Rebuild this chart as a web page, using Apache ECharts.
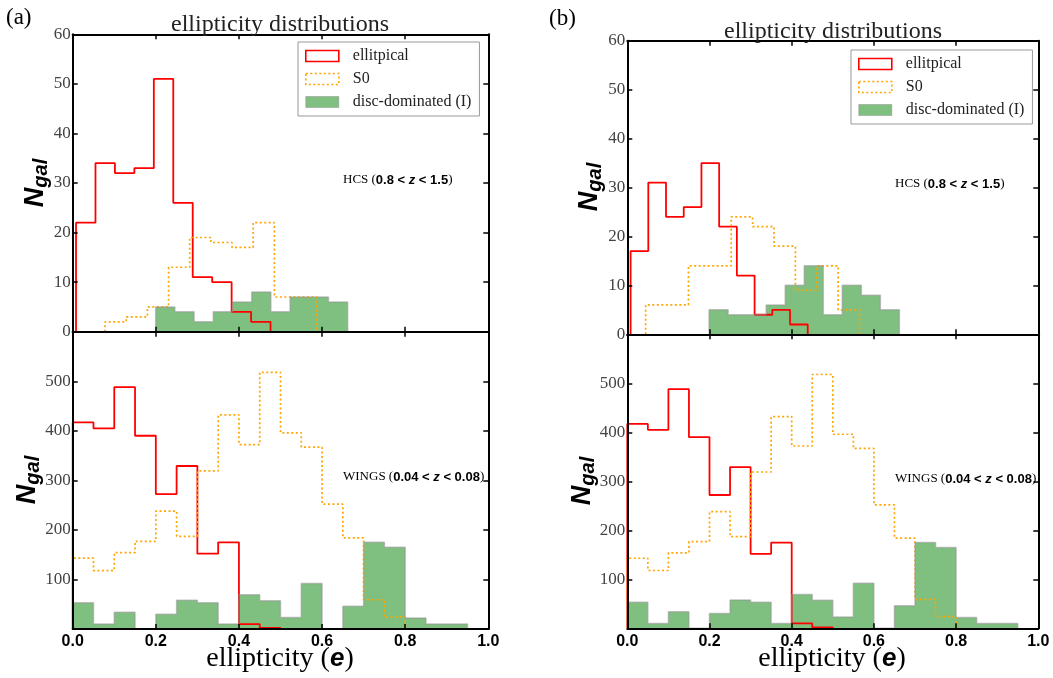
<!DOCTYPE html>
<html>
<head>
<meta charset="utf-8">
<script src="https://cdn.jsdelivr.net/npm/echarts@6/dist/echarts.min.js"></script>
<style>
  html, body { margin: 0; padding: 0; background: #fff; }
  #chart { width: 1053px; height: 678px; }
</style>
</head>
<body>
<div id="chart"></div>
<script>
// Histogram counts per morphological class; each set spans [lo, hi] split into equal bins.
const xTickValues = [0.0, 0.2, 0.4, 0.6, 0.8, 1.0];
const seriesNames = ['ellitpical', 'S0', 'disc-dominated (I)'];

// HCS (0.8 < z < 1.5), panel (a)
const hcsA_ellRange = [0.008, 0.476];
const hcsA_ellCounts = [22, 34, 32, 33, 51, 26, 11, 10, 4, 2];
const hcsA_s0Range = [0.078, 0.587];
const hcsA_s0Counts = [2, 3, 5, 13, 19, 18, 17, 22, 7, 7];
const hcsA_discRange = [0.1997, 0.6616];
const hcsA_discCounts = [5, 4, 2, 4, 6, 8, 4, 7, 7, 6];

// HCS (0.8 < z < 1.5), panel (b)
const hcsB_ellRange = [0.008, 0.439];
const hcsB_ellCounts = [17, 31, 24, 26, 35, 22, 12, 4, 5, 2];
const hcsB_s0Range = [0.0447, 0.565];
const hcsB_s0Counts = [6, 6, 14, 14, 24, 22, 18, 9, 14, 5];
const hcsB_discRange = [0.199, 0.662];
const hcsB_discCounts = [5, 4, 4, 6, 10, 14, 4, 10, 8, 5];

// WINGS (0.04 < z < 0.08), bins of 0.05 starting at 0
const wings_ellRange = [0.0, 0.5];
const wings_ellCounts = [417, 405, 488, 390, 272, 329, 152, 175, 10, 2];
const wings_s0Range = [0.0, 0.8];
const wings_s0Counts = [143, 118, 154, 177, 238, 187, 319, 432, 372, 518, 396, 367, 252, 184, 59, 24];
const wings_discRange = [0.0, 0.95];
const wings_discCounts = [53, 10, 34, 0, 30, 58, 53, 10, 69, 57, 23, 92, 0, 46, 175, 165, 22, 10, 10];

// Panel y scales
const hcsYTicks = [0, 10, 20, 30, 40, 50, 60];
const wingsYTicks = [100, 200, 300, 400, 500];

const RED = '#ff0000';
const ORANGE = '#ffa500';
const GREEN_FILL = 'rgba(0,128,0,0.5)';
const GREEN_EDGE = 'rgba(150,150,150,0.55)';
const SERIF = '"Liberation Serif", "DejaVu Serif", serif';
const SANS = '"Liberation Sans", Arial, sans-serif';

// Step outline of a histogram as [x, y] points for a step:'end' line.
function stepPoints(range, counts) {
  const n = counts.length;
  const w = (range[1] - range[0]) / n;
  const pts = [[range[0], 0]];
  for (let i = 0; i < n; i++) pts.push([range[0] + i * w, counts[i]]);
  pts.push([range[1], counts[n - 1]]);
  pts.push([range[1], 0]);
  return pts;
}

const grids = [
  { left: 72.7, top: 34.3, width: 415.6, height: 297.4 },
  { left: 72.7, top: 331.7, width: 415.6, height: 297.3 },
  { left: 627.3, top: 40.7, width: 411, height: 293.6 },
  { left: 627.3, top: 334.3, width: 411, height: 294 }
];

const panels = [
  { yMax: 60, yInt: 10, labels: hcsYTicks, showX: false,
    ell: [hcsA_ellRange, hcsA_ellCounts], s0: [hcsA_s0Range, hcsA_s0Counts], disc: [hcsA_discRange, hcsA_discCounts] },
  { yMax: 600, yInt: 100, labels: wingsYTicks, showX: true,
    ell: [wings_ellRange, wings_ellCounts], s0: [wings_s0Range, wings_s0Counts], disc: [wings_discRange, wings_discCounts] },
  { yMax: 60, yInt: 10, labels: hcsYTicks, showX: false,
    ell: [hcsB_ellRange, hcsB_ellCounts], s0: [hcsB_s0Range, hcsB_s0Counts], disc: [hcsB_discRange, hcsB_discCounts] },
  { yMax: 600, yInt: 100, labels: wingsYTicks, showX: true,
    ell: [wings_ellRange, wings_ellCounts], s0: [wings_s0Range, wings_s0Counts], disc: [wings_discRange, wings_discCounts] }
];

const axisLine = { show: true, onZero: false, lineStyle: { color: '#000', width: 2 } };
const axisTick = { show: true, inside: true, length: 5, lineStyle: { color: '#000', width: 1.5 } };

const xAxes = [], yAxes = [], series = [];
panels.forEach((p, g) => {
  const xBase = { type: 'value', gridIndex: g, min: xTickValues[0], max: xTickValues[xTickValues.length - 1],
    interval: xTickValues[1] - xTickValues[0], splitLine: { show: false }, axisLine, axisTick, z: 10 };
  xAxes.push(Object.assign({}, xBase, {
    position: 'bottom',
    axisLabel: { show: p.showX, showMinLabel: true, showMaxLabel: true, margin: 5,
      formatter: v => v.toFixed(1), fontFamily: SANS, fontWeight: 'bold', fontSize: 16, color: '#000' }
  }));
  xAxes.push(Object.assign({}, xBase, { position: 'top', axisLabel: { show: false } }));

  const yBase = { type: 'value', gridIndex: g, min: 0, max: p.yMax, interval: p.yInt,
    splitLine: { show: false }, axisLine, axisTick, z: 10 };
  yAxes.push(Object.assign({}, yBase, {
    position: 'left',
    axisLabel: { show: true, showMinLabel: true, showMaxLabel: true, margin: 2,
      formatter: v => (p.labels.indexOf(v) >= 0 ? String(v) : ''),
      fontFamily: SERIF, fontSize: 17, color: '#444' }
  }));
  yAxes.push(Object.assign({}, yBase, { position: 'right', axisLabel: { show: false } }));

  const common = { type: 'line', xAxisIndex: 2 * g, yAxisIndex: 2 * g, step: 'end',
    symbol: 'none', animation: false, silent: true };
  series.push(Object.assign({}, common, { name: seriesNames[0], data: stepPoints(p.ell[0], p.ell[1]),
    lineStyle: { color: RED, width: 1.8 }, itemStyle: { color: RED } }));
  series.push(Object.assign({}, common, { name: seriesNames[1], data: stepPoints(p.s0[0], p.s0[1]),
    lineStyle: { color: ORANGE, width: 1.7, type: [2, 2.5] }, itemStyle: { color: ORANGE } }));
  series.push(Object.assign({}, common, { name: seriesNames[2], data: stepPoints(p.disc[0], p.disc[1]),
    lineStyle: { color: GREEN_EDGE, width: 1.5 }, areaStyle: { color: GREEN_FILL, opacity: 1 },
    itemStyle: { color: GREEN_FILL } }));
});

function legendAt(left, top) {
  return {
    left, top, orient: 'vertical', selectedMode: false,
    backgroundColor: '#fff', borderColor: '#999', borderWidth: 1, borderRadius: 0,
    padding: [6, 8, 6, 7], itemWidth: 33, itemHeight: 11, itemGap: 7,
    textStyle: { fontFamily: SERIF, fontSize: 16, color: '#222', lineHeight: 16, padding: [0, 0, 0, 9] },
    data: [
      { name: seriesNames[0], icon: 'rect', itemStyle: { color: 'rgba(0,0,0,0)', borderColor: RED, borderWidth: 1.6 } },
      { name: seriesNames[1], icon: 'rect', itemStyle: { color: 'rgba(0,0,0,0)', borderColor: ORANGE, borderWidth: 1.6, borderType: [2, 2.5] } },
      { name: seriesNames[2], icon: 'rect', itemStyle: { color: GREEN_FILL, borderColor: GREEN_EDGE, borderWidth: 1 } }
    ]
  };
}

const annoRich = {
  s: { fontFamily: SERIF, fontSize: 13, color: '#333' },
  b: { fontFamily: SANS, fontSize: 13, fontWeight: 'bold', color: '#111' },
  i: { fontFamily: SANS, fontSize: 13, fontWeight: 'bold', fontStyle: 'italic', color: '#111' }
};
function annotation(x, y, label, lo, hi) {
  return { type: 'text', x, y, z: 20, style: {
    text: '{s|' + label + ' (}{b|' + lo + ' < }{i|z}{b| < ' + hi + '}{s|)}',
    rich: annoRich, verticalAlign: 'middle', align: 'left' } };
}
function nGal(x, y) {
  return { type: 'text', x, y, rotation: Math.PI / 2, z: 20, style: {
    text: '{n|N}{g|gal}', align: 'center', verticalAlign: 'middle',
    rich: {
      n: { fontFamily: SANS, fontSize: 27, fontWeight: 'bold', fontStyle: 'italic', color: '#000', lineHeight: 32 },
      g: { fontFamily: SANS, fontSize: 20, fontWeight: 'bold', fontStyle: 'italic', color: '#000', lineHeight: 32, padding: [10, 0, 0, 0] }
    } } };
}
function titleText(x, y) {
  return { type: 'text', x, y, z: 20, style: { text: 'ellipticity distributions', fontFamily: SERIF,
    fontSize: 24, fill: '#222', align: 'center', verticalAlign: 'middle' } };
}
function xName(x, y) {
  return { type: 'text', x, y, z: 20, style: {
    text: '{s|ellipticity (}{e|e}{s|)}', align: 'center', verticalAlign: 'middle',
    rich: {
      s: { fontFamily: SERIF, fontSize: 28, color: '#222' },
      e: { fontFamily: SANS, fontSize: 26, fontWeight: 'bold', fontStyle: 'italic', color: '#000' }
    } } };
}
function panelTag(x, y, t) {
  return { type: 'text', x, y, z: 20, style: { text: t, fontFamily: SERIF, fontSize: 23, fill: '#000',
    align: 'left', verticalAlign: 'middle' } };
}

const option = {
  animation: false,
  backgroundColor: '#fff',
  grid: grids.map(g => Object.assign({ containLabel: false }, g)),
  xAxis: xAxes,
  yAxis: yAxes,
  legend: [legendAt(298, 42), legendAt(851, 50)],
  series,
  graphic: [
    panelTag(6, 18, '(a)'), panelTag(549, 19, '(b)'),
    titleText(280, 25), titleText(833, 32),
    annotation(343, 180, 'HCS', '0.8', '1.5'), annotation(895, 184, 'HCS', '0.8', '1.5'),
    annotation(343, 477, 'WINGS', '0.04', '0.08'), annotation(895, 479, 'WINGS', '0.04', '0.08'),
    nGal(36, 183), nGal(28, 480), nGal(590, 187), nGal(583, 481),
    xName(280, 659), xName(832, 659)
  ]
};

const chart = echarts.init(document.getElementById('chart'), null, { renderer: 'canvas' });
chart.setOption(option);
</script>
</body>
</html>
